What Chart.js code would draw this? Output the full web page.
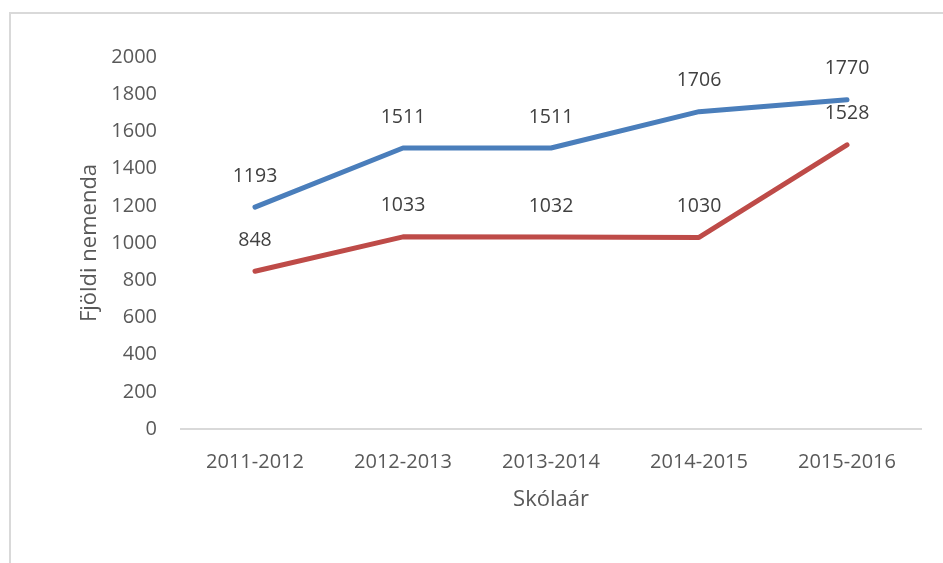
<!DOCTYPE html>
<html>
<head>
<meta charset="utf-8">
<script src="https://cdn.jsdelivr.net/npm/chart.js@4/dist/chart.umd.min.js"></script>
<style>
html,body{margin:0;padding:0;background:#fff;}
#wrap{width:943px;height:563px;position:relative;}
</style>
</head>
<body>
<div id="wrap"><canvas id="c" width="943" height="563"></canvas></div>
<script>
const categories = ['2011-2012','2012-2013','2013-2014','2014-2015','2015-2016'];
const seriesA = [1193, 1511, 1511, 1706, 1770];
const seriesB = [848, 1033, 1032, 1030, 1528];
const yTicks = [0,200,400,600,800,1000,1200,1400,1600,1800,2000];

const FONT = "'Open Sans', 'Noto Sans', sans-serif";

const frame = {
  id: 'frame',
  beforeDraw(chart) {
    const ctx = chart.ctx;
    ctx.save();
    ctx.fillStyle = '#fff';
    ctx.fillRect(0,0,chart.width,chart.height);
    ctx.strokeStyle = '#d9d9d9';
    ctx.lineWidth = 2;
    ctx.beginPath();
    ctx.moveTo(10, chart.height + 5);
    ctx.lineTo(10, 13);
    ctx.lineTo(chart.width + 5, 13);
    ctx.stroke();
    ctx.restore();
  }
};

const labels = {
  id: 'labels',
  afterDatasetsDraw(chart) {
    const ctx = chart.ctx;
    ctx.save();
    ctx.font = "19.5px " + FONT;
    ctx.fillStyle = '#404040';
    ctx.textAlign = 'center';
    ctx.textBaseline = 'middle';
    chart.data.datasets.forEach((ds, i) => {
      chart.getDatasetMeta(i).data.forEach((pt, j) => {
        ctx.fillText(String(ds.data[j]), pt.x, pt.y - 31);
      });
    });
    ctx.restore();
  }
};

new Chart(document.getElementById('c'), {
  type: 'line',
  data: {
    labels: categories,
    datasets: [
      { label: 'A', data: seriesA, borderColor: '#4a7ebb', borderWidth: 5, pointRadius: 0, borderCapStyle: 'round', borderJoinStyle: 'round', tension: 0 },
      { label: 'B', data: seriesB, borderColor: '#be4b48', borderWidth: 5, pointRadius: 0, borderCapStyle: 'round', borderJoinStyle: 'round', tension: 0 }
    ]
  },
  options: {
    responsive: false,
    animation: false,
    devicePixelRatio: 1,
    layout: { padding: { left: 77, right: 22, top: 57, bottom: 45 } },
    plugins: { legend: { display: false }, tooltip: { enabled: false } },
    scales: {
      x: {
        offset: true,
        grid: { display: false, drawTicks: false },
        border: { display: true, color: '#d9d9d9', width: 2 },
        ticks: { color: '#595959', font: { family: FONT, size: 20 }, padding: 21, maxRotation: 0 },
        title: { display: true, text: 'Skólaár', color: '#595959', font: { family: FONT, size: 22 }, padding: { top: 0, bottom: 5 } },
        afterFit(scale) { scale.height = 89; }
      },
      y: {
        min: 0, max: 2000,
        grid: { display: false, drawTicks: false },
        border: { display: false },
        afterBuildTicks(scale) { scale.ticks = yTicks.map(v => ({ value: v })); },
        ticks: { color: '#595959', font: { family: FONT, size: 20 }, padding: 24, callback: v => String(v) },
        title: { display: true, text: 'Fjöldi nemenda', color: '#595959', font: { family: FONT, size: 22 }, padding: { top: 0, bottom: 0 } },
        afterFit(scale) { scale.width = 104; }
      }
    }
  },
  plugins: [frame, labels]
});
</script>
</body>
</html>
